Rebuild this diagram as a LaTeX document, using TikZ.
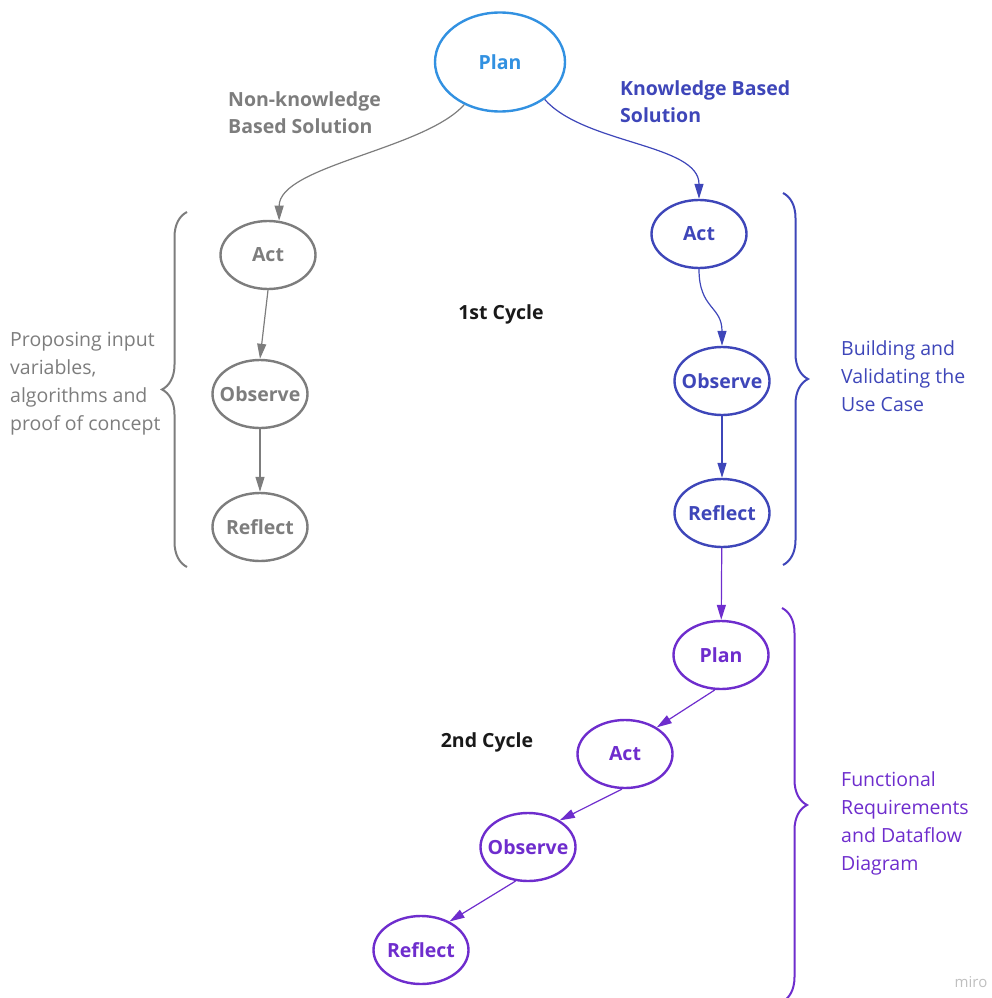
\documentclass[tikz,border=0pt]{standalone}
\usepackage{fontspec}
\setmainfont{Open Sans}
\usetikzlibrary{arrows.meta,positioning,shapes.geometric,decorations.pathreplacing}
\definecolor{planblue}{RGB}{50,145,225}
\definecolor{kbblue}{RGB}{62,70,185}
\definecolor{cyclepurple}{RGB}{110,45,205}
\definecolor{nkgray}{RGB}{125,125,125}

\begin{document}
\begin{tikzpicture}[x=1pt, y=-1pt,
    stage/.style={draw, ellipse, line width=2.4pt, minimum width=95pt, minimum height=68pt, inner xsep=-8pt, inner ysep=0pt, font=\fontsize{19.5}{23}\selectfont\bfseries},
    nk/.style={stage, draw=nkgray, text=nkgray},
    kb/.style={stage, draw=kbblue, text=kbblue},
    cyc/.style={stage, draw=cyclepurple, text=cyclepurple},
    flow/.style={-{Triangle[length=15pt, width=9pt]}, line width=1.2pt},
    note/.style={align=left, anchor=west, inner sep=0pt, font=\fontsize{19.5}{28}\selectfont},
    title/.style={note, font=\fontsize{19.5}{27}\selectfont\bfseries},
    curly/.style={decorate, decoration={brace, amplitude=25pt}, line width=2pt}]
  \useasboundingbox (0,0) rectangle (992,998);

  % first cycle
  \node[stage, draw=planblue, text=planblue, minimum width=130pt, minimum height=99pt] (plan) at (500,62) {Plan};
  \node[title, text=nkgray] (nklabel) at (228,113) {Non-knowledge\\Based Solution};
  \node[title, text=kbblue] (kblabel) at (620,102) {Knowledge Based\\Solution};

  \node[nk] (nact) at (268,255) {Act};
  \node[nk] (nobs) at (260,394) {Observe};
  \node[nk] (nref) at (260,527) {Reflect};

  \node[kb] (bact) at (699,234) {Act};
  \node[kb] (bobs) at (722,381) {Observe};
  \node[kb] (bref) at (722,513) {Reflect};

  \node[title, anchor=center, text=black!90] (cycle1) at (501,314) {1st Cycle};

  % second cycle
  \node[cyc] (pplan) at (721,655) {Plan};
  \node[cyc] (pact) at (625,754) {Act};
  \node[cyc] (pobs) at (528,847) {Observe};
  \node[cyc] (pref) at (421,950) {Reflect};

  \node[title, anchor=center, text=black!90] (cycle2) at (487,742) {2nd Cycle};

  % side notes
  \node[note, text=nkgray] (nknote) at (10,384) {Proposing input\\variables,\\algorithms and\\proof of concept};
  \node[note, text=kbblue] (kbnote) at (841,376) {Building and\\Validating the\\Use Case};
  \node[note, text=cyclepurple] (cycnote) at (841,823) {Functional\\Requirements\\and Dataflow\\Diagram};
  \node[font=\fontsize{15}{17}\selectfont, text=black!25] (miro) at (971,982) {miro};

  \draw[curly, nkgray] (187,567) -- (187,212);
  \draw[curly, kbblue] (783,193) -- (783,565);
  \draw[curly, cyclepurple] (782,608) -- (782,1002);

  % connectors
  \draw[flow, nkgray] (plan.230) .. controls +(-40,45) and +(0,-55) .. (nact.72);
  \draw[flow, kbblue] (plan.-40) .. controls +(40,45) and +(0,-55) .. (bact.north);
  \draw[flow, nkgray] (nact.south) -- (nobs.north);
  \draw[flow, nkgray] (nobs) -- (nref);
  \draw[flow, kbblue] (bact.south) .. controls +(0,40) and +(0,-40) .. (bobs.north);
  \draw[flow, kbblue] (bobs) -- (bref);
  \draw[flow, cyclepurple] (bref) -- (pplan);
  \draw[flow, cyclepurple] (pplan.-100) -- (pact.40);
  \draw[flow, cyclepurple] (pact.-95) -- (pobs.40);
  \draw[flow, cyclepurple] (pobs.-110) -- (pref.45);
\end{tikzpicture}
\end{document}
